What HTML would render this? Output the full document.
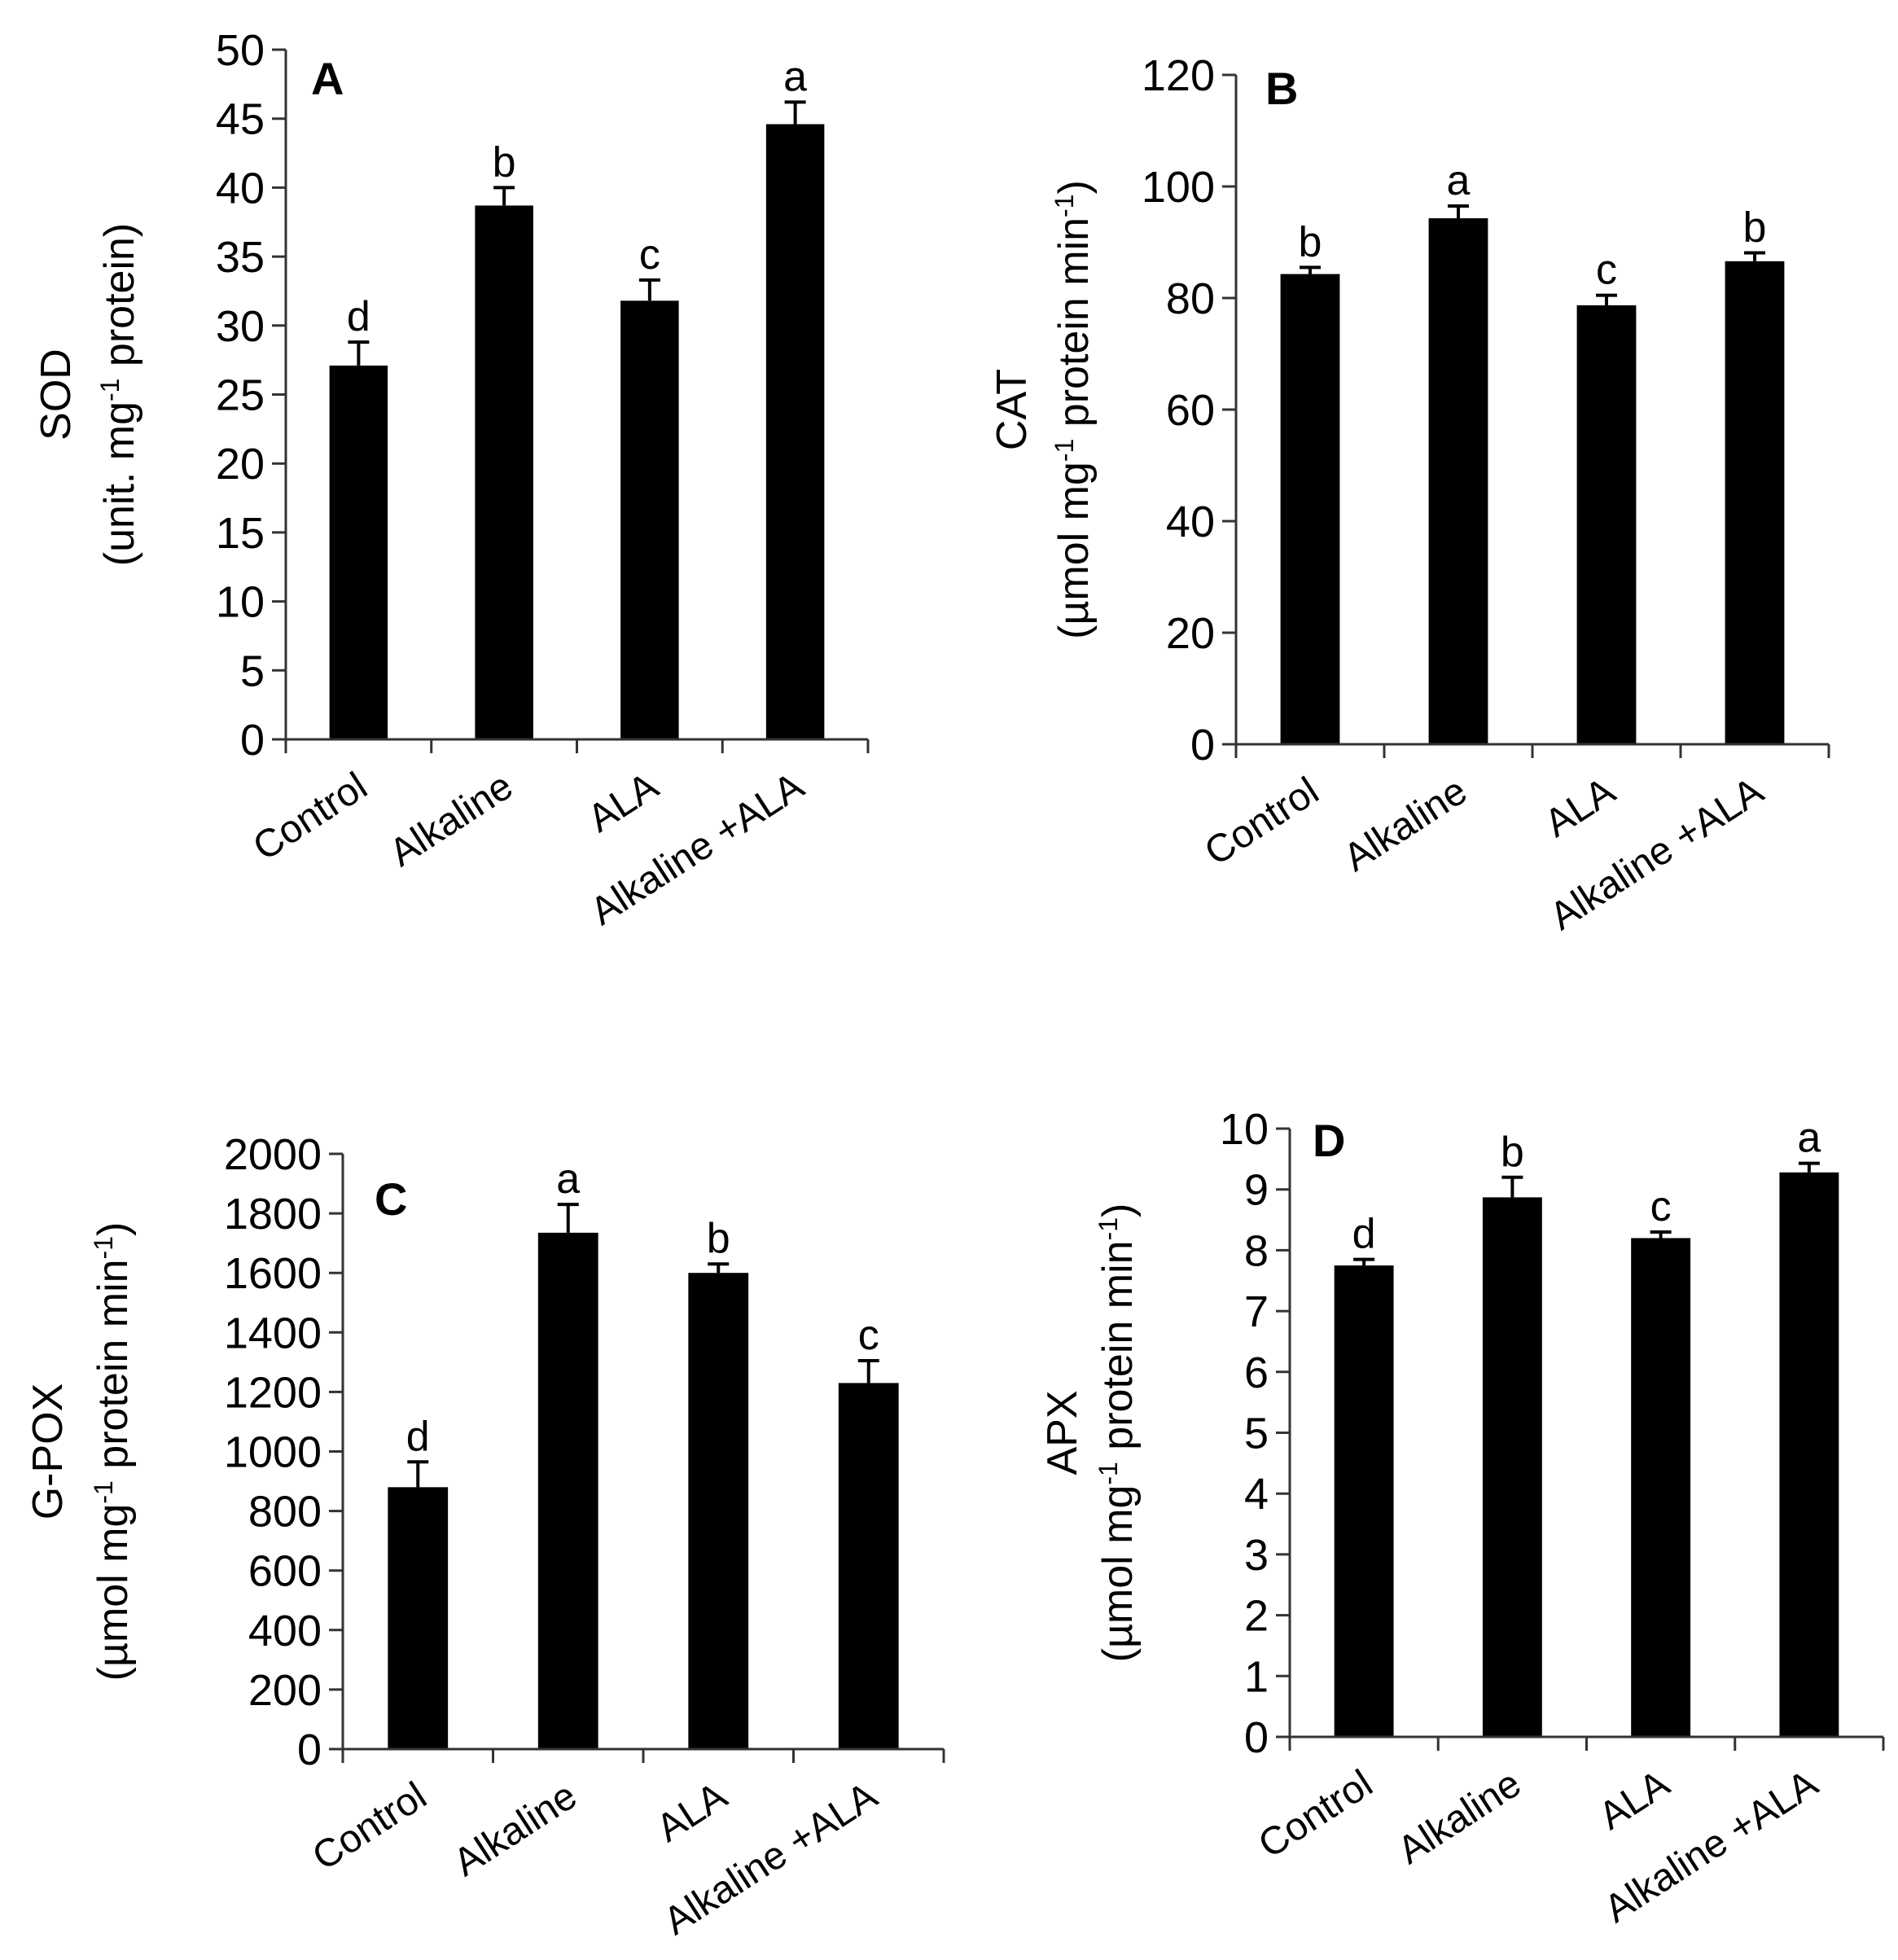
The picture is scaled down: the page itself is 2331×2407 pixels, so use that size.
<!DOCTYPE html>
<html><head><meta charset="utf-8"><style>
body{margin:0;background:#fff}
svg{display:block;font-family:"Liberation Sans",sans-serif}
</style></head><body>
<svg id="fig" width="2331" height="2407" viewBox="0 0 2331 2407" xmlns="http://www.w3.org/2000/svg"></svg>
<script>
const categories = ["Control","Alkaline","ALA","Alkaline +ALA"];
const sodValues = [27.1, 38.7, 31.8, 44.6];
const sodErrors = [1.7, 1.3, 1.5, 1.6];
const sodLetters = ["d","b","c","a"];
const sodTicks = [0,5,10,15,20,25,30,35,40,45,50];
const catValues = [84.3, 94.3, 78.7, 86.6];
const catErrors = [1.2, 2.2, 1.8, 1.5];
const catLetters = ["b","a","c","b"];
const catTicks = [0,20,40,60,80,100,120];
const gpoxValues = [880, 1735, 1600, 1230];
const gpoxErrors = [85, 95, 30, 75];
const gpoxLetters = ["d","a","b","c"];
const gpoxTicks = [0,200,400,600,800,1000,1200,1400,1600,1800,2000];
const apxValues = [7.75, 8.87, 8.2, 9.28];
const apxErrors = [0.1, 0.33, 0.1, 0.15];
const apxLetters = ["d","b","c","a"];
const apxTicks = [0,1,2,3,4,5,6,7,8,9,10];

const NS="http://www.w3.org/2000/svg";
const svg=document.getElementById('fig');
function mk(tag,attrs,parent){const e=document.createElementNS(NS,tag);for(const k in attrs)e.setAttribute(k,attrs[k]);(parent||svg).appendChild(e);return e;}

function panel(p){
  const g=mk('g',{});
  
  
  const max=p.ticks[p.ticks.length-1];
  const y=v=>p.y0-(v/max)*(p.y0-p.y1);
  const band=(p.x1-p.x0)/categories.length;
  const cx=i=>p.x0+band*(i+0.5);
  const bw=band*0.4;
  p.values.forEach((v,i)=>{
    const r=mk('rect',{x:cx(i)-bw/2,y:y(v),width:bw,height:p.y0-y(v),fill:'#000'},g);
    
    
    const top=y(v+p.errors[i]);
    const e=mk('path',{d:`M${cx(i)} ${y(v)}V${top}M${cx(i)-13} ${top}H${cx(i)+13}`,stroke:'#000','stroke-width':4,fill:'none'},g);
    
    
    const t=mk('text',{x:cx(i),y:top-14,'font-size':52,'text-anchor':'middle'},g);
    t.textContent=p.letters[i];
    
    
    const lx=cx(i)+14, ly=p.y0+66;
    const l=mk('text',{x:lx,y:ly,'font-size':48,'text-anchor':'end',transform:`rotate(-33 ${lx} ${ly})`},g);
    l.textContent=categories[i];
    
    
  });
  const ax=mk('path',{d:`M${p.x0} ${p.y1}V${p.y0}H${p.x1}`,stroke:'#333','stroke-width':3,fill:'none'},g);
  
  
  p.ticks.forEach(t=>{
    mk('line',{x1:p.x0-17,x2:p.x0,y1:y(t),y2:y(t),stroke:'#333','stroke-width':3},g);
    const tl=mk('text',{x:p.x0-26,y:y(t)+19,'font-size':54,'text-anchor':'end'},g);
    tl.textContent=t;
    
    
  });
  for(let i=0;i<=categories.length;i++){
    mk('line',{x1:p.x0+band*i,x2:p.x0+band*i,y1:p.y0,y2:p.y0+17,stroke:'#333','stroke-width':3},g);
  }
  const ym=(p.y0+p.y1)/2;
  const t1=mk('text',{x:p.t1x,y:ym,'font-size':52,'text-anchor':'middle',transform:`rotate(-90 ${p.t1x} ${ym})`},g);
  t1.textContent=p.title1;
  
  
  const t2=mk('text',{x:p.t2x,y:ym,'font-size':52,'text-anchor':'middle',transform:`rotate(-90 ${p.t2x} ${ym})`},g);
  t2.innerHTML=p.title2;
  
  
  const lt=mk('text',{x:p.lx,y:p.ly,'font-size':56,'font-weight':'bold'},g);
  lt.textContent=p.id;
  
  
}
const sup='<tspan dy="-18" font-size="32">-1</tspan><tspan dy="18">';
const supEnd='</tspan><tspan dy="-18" font-size="32">-1</tspan><tspan dy="18">)</tspan>';
panel({id:'A',values:sodValues,errors:sodErrors,letters:sodLetters,ticks:sodTicks,x0:351,x1:1066,y0:908,y1:61,
  title1:'SOD',title2:'(unit. mg'+sup+' protein)</tspan>',t1x:86,t2x:164,lx:382,ly:116});
panel({id:'B',values:catValues,errors:catErrors,letters:catLetters,ticks:catTicks,x0:1518,x1:2246,y0:914,y1:92,
  title1:'CAT',title2:'(µmol mg'+sup+' protein min'+supEnd,t1x:1260,t2x:1336,lx:1554,ly:128});
panel({id:'C',values:gpoxValues,errors:gpoxErrors,letters:gpoxLetters,ticks:gpoxTicks,x0:421,x1:1159,y0:2148,y1:1417,
  title1:'G-POX',title2:'(µmol mg'+sup+' protein min'+supEnd,t1x:76,t2x:156,lx:460,ly:1492});
panel({id:'D',values:apxValues,errors:apxErrors,letters:apxLetters,ticks:apxTicks,x0:1584,x1:2313,y0:2133,y1:1386,
  title1:'APX',title2:'(µmol mg'+sup+' protein min'+supEnd,t1x:1322,t2x:1390,lx:1612,ly:1420});
</script>
</body></html>
